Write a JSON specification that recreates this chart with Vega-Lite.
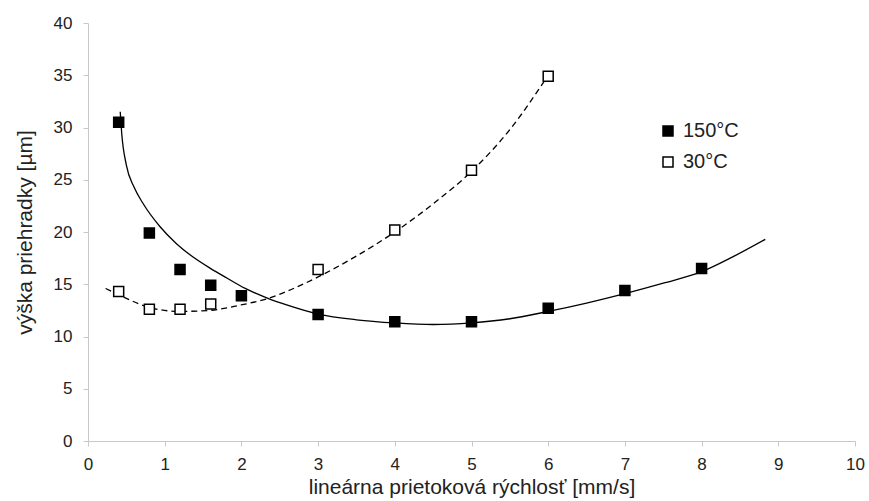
{
  "$schema": "https://vega.github.io/schema/vega-lite/v6.json",
  "width": 767,
  "height": 418,
  "autosize": {"type": "none"},
  "padding": {"left": 88, "top": 23, "right": 14, "bottom": 60},
  "background": "white",
  "config": {
    "font": "Liberation Sans",
    "view": {"stroke": null},
    "axis": {
      "grid": false,
      "domainColor": "#c8c8c8",
      "tickColor": "#c8c8c8",
      "tickSize": 5,
      "labelFont": "Liberation Sans",
      "labelFontSize": 17,
      "labelColor": "#222",
      "labelFlush": false,
      "format": "d",
      "titleFont": "Liberation Sans",
      "titleFontSize": 21,
      "titleFontWeight": "normal",
      "titleColor": "#222"
    }
  },
  "datasets": {
    "points": [
      {"x": 0.4, "y": 30.5, "series": "150°C"},
      {"x": 0.8, "y": 19.9, "series": "150°C"},
      {"x": 1.2, "y": 16.4, "series": "150°C"},
      {"x": 1.6, "y": 14.9, "series": "150°C"},
      {"x": 2.0, "y": 13.9, "series": "150°C"},
      {"x": 3.0, "y": 12.1, "series": "150°C"},
      {"x": 4.0, "y": 11.4, "series": "150°C"},
      {"x": 5.0, "y": 11.4, "series": "150°C"},
      {"x": 6.0, "y": 12.7, "series": "150°C"},
      {"x": 7.0, "y": 14.4, "series": "150°C"},
      {"x": 8.0, "y": 16.5, "series": "150°C"},
      {"x": 0.4, "y": 14.3, "series": "30°C"},
      {"x": 0.8, "y": 12.6, "series": "30°C"},
      {"x": 1.2, "y": 12.6, "series": "30°C"},
      {"x": 1.6, "y": 13.1, "series": "30°C"},
      {"x": 3.0, "y": 16.4, "series": "30°C"},
      {"x": 4.0, "y": 20.2, "series": "30°C"},
      {"x": 5.0, "y": 25.9, "series": "30°C"},
      {"x": 6.0, "y": 34.9, "series": "30°C"}
    ],
    "curves": [
      {"x": 0.42, "y": 31.5, "series": "150°C"},
      {"x": 0.44, "y": 29.4, "series": "150°C"},
      {"x": 0.5, "y": 26.4, "series": "150°C"},
      {"x": 0.6, "y": 24.3, "series": "150°C"},
      {"x": 0.72, "y": 22.7, "series": "150°C"},
      {"x": 0.94, "y": 20.5, "series": "150°C"},
      {"x": 1.15, "y": 18.9, "series": "150°C"},
      {"x": 1.37, "y": 17.6, "series": "150°C"},
      {"x": 1.6, "y": 16.5, "series": "150°C"},
      {"x": 1.81, "y": 15.6, "series": "150°C"},
      {"x": 2.05, "y": 14.6, "series": "150°C"},
      {"x": 2.33, "y": 13.7, "series": "150°C"},
      {"x": 2.6, "y": 13.0, "series": "150°C"},
      {"x": 3.0, "y": 12.15, "series": "150°C"},
      {"x": 3.5, "y": 11.6, "series": "150°C"},
      {"x": 4.0, "y": 11.3, "series": "150°C"},
      {"x": 4.5, "y": 11.15, "series": "150°C"},
      {"x": 5.0, "y": 11.3, "series": "150°C"},
      {"x": 5.5, "y": 11.7, "series": "150°C"},
      {"x": 6.0, "y": 12.4, "series": "150°C"},
      {"x": 6.5, "y": 13.2, "series": "150°C"},
      {"x": 7.0, "y": 14.1, "series": "150°C"},
      {"x": 7.5, "y": 15.1, "series": "150°C"},
      {"x": 8.0, "y": 16.2, "series": "150°C"},
      {"x": 8.4, "y": 17.6, "series": "150°C"},
      {"x": 8.83, "y": 19.3, "series": "150°C"},
      {"x": 0.23, "y": 14.6, "series": "30°C"},
      {"x": 0.5, "y": 13.65, "series": "30°C"},
      {"x": 0.79, "y": 12.8, "series": "30°C"},
      {"x": 1.2, "y": 12.4, "series": "30°C"},
      {"x": 1.59, "y": 12.5, "series": "30°C"},
      {"x": 1.98, "y": 13.0, "series": "30°C"},
      {"x": 2.33, "y": 13.6, "series": "30°C"},
      {"x": 2.65, "y": 14.5, "series": "30°C"},
      {"x": 3.0, "y": 15.7, "series": "30°C"},
      {"x": 3.5, "y": 17.7, "series": "30°C"},
      {"x": 4.0, "y": 20.0, "series": "30°C"},
      {"x": 4.5, "y": 22.7, "series": "30°C"},
      {"x": 5.0, "y": 25.8, "series": "30°C"},
      {"x": 5.5, "y": 29.8, "series": "30°C"},
      {"x": 6.0, "y": 35.0, "series": "30°C"}
    ]
  },
  "layer": [
    {
      "data": {"name": "curves"},
      "transform": [{"filter": "datum.series === '150°C'"}],
      "mark": {"type": "line", "color": "black", "strokeWidth": 1.3, "interpolate": "monotone"},
      "encoding": {
        "x": {"field": "x", "type": "quantitative", "scale": {"domain": [0, 10]}, "axis": {"values": [0,1,2,3,4,5,6,7,8,9,10], "title": "lineárna prietoková rýchlosť [mm/s]", "labelPadding": 10, "titlePadding": 4}},
        "y": {"field": "y", "type": "quantitative", "scale": {"domain": [0, 40]}, "axis": {"values": [0,5,10,15,20,25,30,35,40], "title": "výška priehradky [µm]", "labelPadding": 11, "titlePadding": 18}}
      }
    },
    {
      "data": {"name": "curves"},
      "transform": [{"filter": "datum.series === '30°C'"}],
      "mark": {"type": "line", "color": "black", "strokeWidth": 1.3, "strokeDash": [6, 4], "interpolate": "monotone"},
      "encoding": {
        "x": {"field": "x", "type": "quantitative"},
        "y": {"field": "y", "type": "quantitative"}
      }
    },
    {
      "data": {"name": "points"},
      "mark": {"type": "point", "shape": "square", "size": 100, "stroke": "black", "strokeWidth": 1.5, "filled": true, "opacity": 1},
      "encoding": {
        "x": {"field": "x", "type": "quantitative"},
        "y": {"field": "y", "type": "quantitative"},
        "fill": {
          "field": "series", "type": "nominal",
          "scale": {"domain": ["150°C", "30°C"], "range": ["black", "white"]},
          "legend": {
            "title": null, "orient": "none", "legendX": 570, "legendY": 98,
            "symbolType": "square", "symbolSize": 100, "symbolStrokeColor": "black", "symbolStrokeWidth": 1.5,
            "symbolOpacity": 1,
            "labelFont": "Liberation Sans", "labelFontSize": 20, "labelColor": "#222", "labelOffset": 5,
            "rowPadding": 11, "padding": 0
          }
        }
      }
    }
  ]
}
